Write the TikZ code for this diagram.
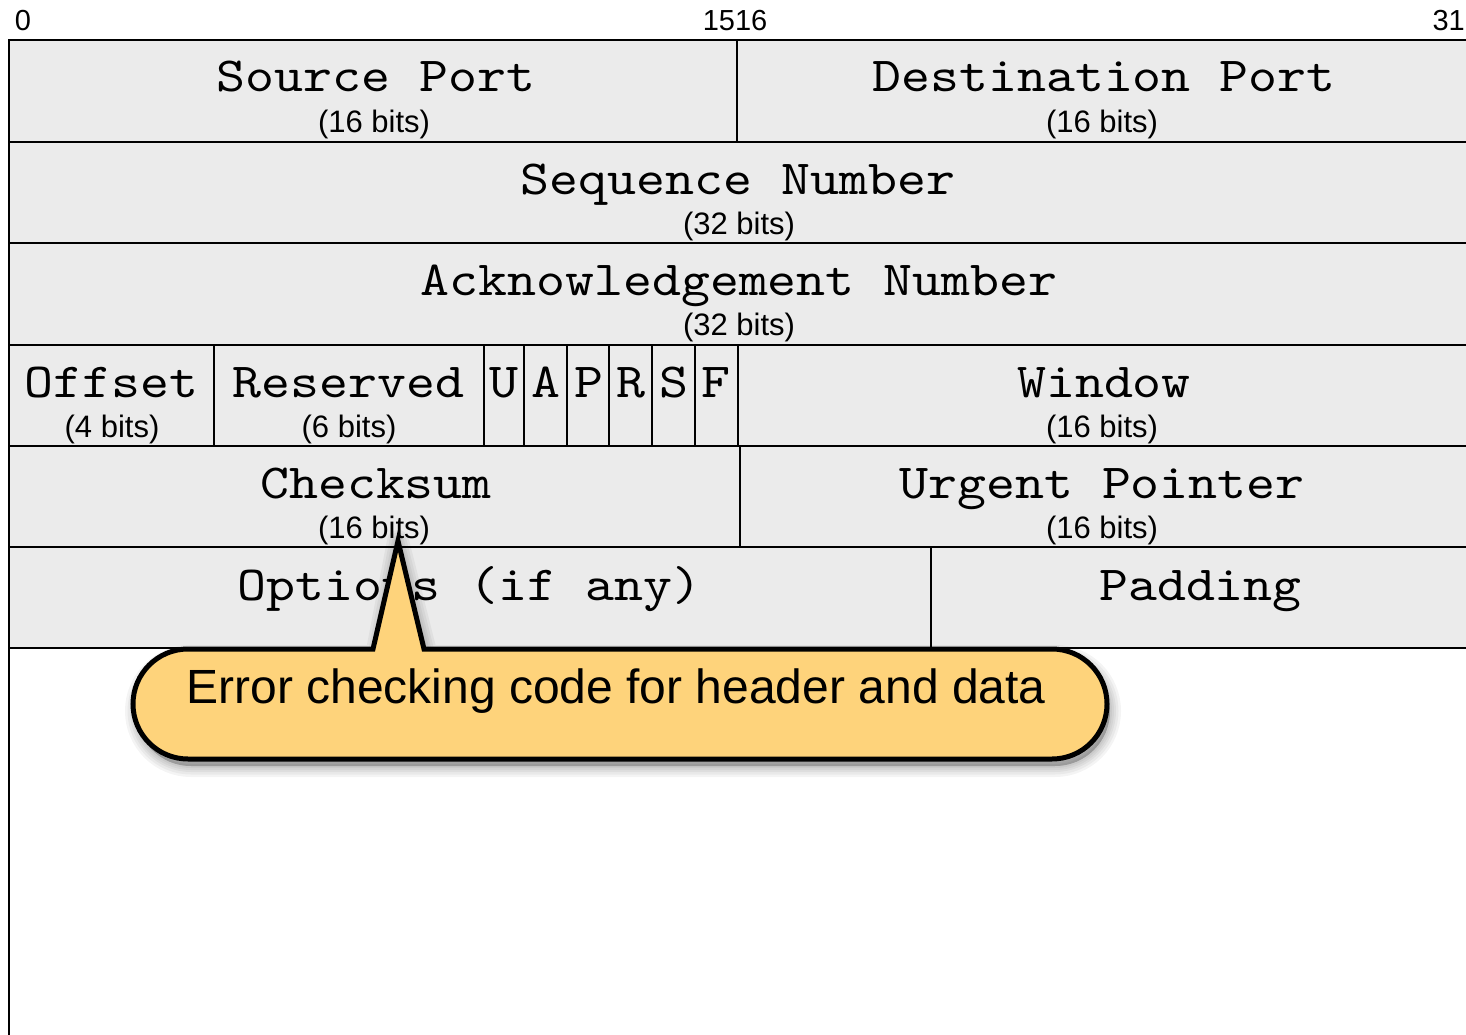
\documentclass[tikz,border=0pt]{standalone}
\usepackage{fontspec}
\setmainfont{Liberation Sans}
\newfontfamily\fieldfont{lmmono10-regular.otf}[FakeStretch=1.125]
\definecolor{boxgray}{HTML}{EBEBEB}
\definecolor{calloutfill}{HTML}{FED37B}
\tikzset{
  fieldbox/.style={fill=boxgray, draw=black, line width=2.8pt},
  fieldname/.style={anchor=base, inner sep=0pt, font=\fieldfont\fontsize{49}{49}\selectfont},
  bitsize/.style={anchor=base, inner sep=0pt, font=\fontsize{31}{31}\selectfont},
  bitpos/.style={anchor=base, inner sep=0pt, font=\fontsize{29}{29}\selectfont},
  callout/.style={fill=calloutfill, draw=black, line width=5pt, line join=miter},
  shadowlayer/.style={draw=black, fill=black, draw opacity=0.045, fill opacity=0.05, line join=round},
  callouttext/.style={anchor=base, inner sep=0pt, font=\fontsize{48}{48}\selectfont},
  divider/.style={draw=black, line width=2.8pt}
}
\def\calloutpath{(tip) -- (424,649) -- (1052,649)
  arc[start angle=-90, end angle=90, radius=55] -- (188,759)
  arc[start angle=90, end angle=270, radius=55] -- (373,649) -- cycle}
\begin{document}
\begin{tikzpicture}[x=1pt,y=-1pt]
\useasboundingbox (0,0) rectangle (1466,1035);
\clip (0,0) rectangle (1466,1035);
\fill[white] (0,0) rectangle (1466,1035);

% bit positions
\node[bitpos] (b0) at (23,31) {0};
\node[bitpos] (b15) at (735,31) {1516};
\node[bitpos, anchor=base east] (b31) at (1465,31) {31};

% rows
\draw[fieldbox] (9,40) rectangle (1475,142);
\draw[fieldbox] (9,142) rectangle (1475,243);
\draw[fieldbox] (9,243) rectangle (1475,345);
\draw[fieldbox] (9,345) rectangle (1475,446);
\draw[fieldbox] (9,446) rectangle (1475,547);
\draw[fieldbox] (9,547) rectangle (1475,648);
% left line down to the bottom
\draw[divider] (9,40) -- (9,1040);

% vertical dividers
\draw[divider] (737,40) -- (737,142);
\draw[divider] (214,345) -- (214,446);
\foreach \xx in {484,524,567,609,652,695,738}
  \draw[divider] (\xx,345) -- (\xx,446);
\draw[divider] (740,446) -- (740,547);
\draw[divider] (931,547) -- (931,648);

% row 1
\node[fieldname] (src) at (376,92) {Source Port};
\node[bitsize] (srcb) at (374,133) {(16 bits)};
\node[fieldname] (dst) at (1104,92) {Destination Port};
\node[bitsize] (dstb) at (1102,133) {(16 bits)};
% row 2
\node[fieldname] (seq) at (738,194) {Sequence Number};
\node[bitsize] (seqb) at (739,234) {(32 bits)};
% row 3
\node[fieldname] (ack) at (739,295) {Acknowledgement Number};
\node[bitsize] (ackb) at (739,335) {(32 bits)};
% row 4
\node[fieldname] (off) at (111.5,397) {Offset};
\node[bitsize] (offb) at (112,437) {(4 bits)};
\node[fieldname] (res) at (348.5,397) {Reserved};
\node[bitsize] (resb) at (349,437) {(6 bits)};
\node[fieldname] (fu) at (504,397) {U};
\node[fieldname] (fa) at (546,397) {A};
\node[fieldname] (fp) at (589,397) {P};
\node[fieldname] (fr) at (631,397) {R};
\node[fieldname] (fs) at (674,397) {S};
\node[fieldname] (ff) at (716,397) {F};
\node[fieldname] (win) at (1104,397) {Window};
\node[bitsize] (winb) at (1102,437) {(16 bits)};
% row 5
\node[fieldname] (chk) at (376,498) {Checksum};
\node[bitsize] (chkb) at (374,538) {(16 bits)};
\node[fieldname] (urg) at (1102,498) {Urgent Pointer};
\node[bitsize] (urgb) at (1102,538) {(16 bits)};
% row 6
\node[fieldname] (opt) at (469.5,600) {Options (if any)};
\node[fieldname] (pad) at (1200.5,600) {Padding};

% callout
\coordinate (tip) at (398,541);
\begin{scope}[shift={(3,7)}]
  \foreach \lw in {22,17,12,8,4}
    \path[shadowlayer, line width=\lw pt] \calloutpath;
\end{scope}
\draw[callout] \calloutpath;
\node[callouttext] (note) at (616,703) {Error checking code for header and data};
\end{tikzpicture}
\end{document}
